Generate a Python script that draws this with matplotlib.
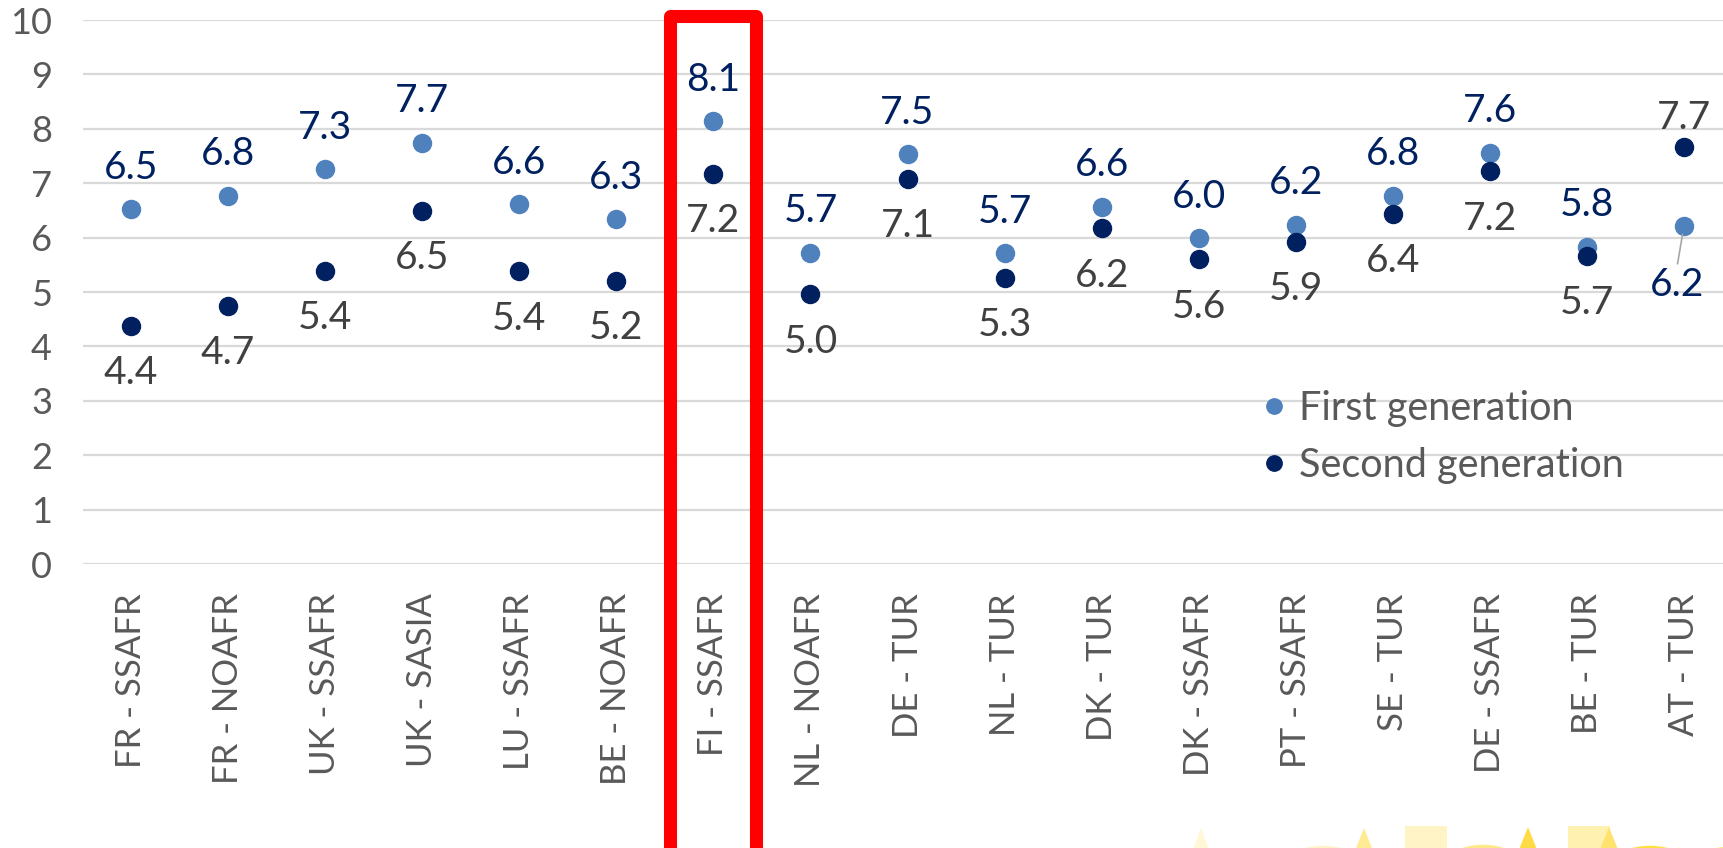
import numpy as np
import matplotlib
matplotlib.use("Agg")
import matplotlib.pyplot as plt
from matplotlib.patches import Rectangle, Circle, Polygon
import matplotlib.transforms as mtransforms

plt.rcParams['font.family'] = ['Lato', 'DejaVu Sans']

categories = ['FR - SSAFR', 'FR - NOAFR', 'UK - SSAFR', 'UK - SASIA', 'LU - SSAFR',
              'BE - NOAFR', 'FI - SSAFR', 'NL - NOAFR', 'DE - TUR', 'NL - TUR',
              'DK - TUR', 'DK - SSAFR', 'PT - SSAFR', 'SE - TUR', 'DE - SSAFR',
              'BE - TUR', 'AT - TUR']
first_gen = [6.52, 6.77, 7.26, 7.74, 6.61, 6.34, 8.14, 5.72, 7.53, 5.71,
             6.57, 5.99, 6.24, 6.77, 7.56, 5.83, 6.21]
second_gen = [4.38, 4.74, 5.39, 6.49, 5.38, 5.21, 7.17, 4.96, 7.08, 5.26,
              6.17, 5.60, 5.92, 6.44, 7.22, 5.67, 7.66]
highlight = 'FI - SSAFR'

W, H = 1723, 848
fig = plt.figure(figsize=(W / 100, H / 100), dpi=100)
ax = fig.add_axes([82.5 / W, (H - 564) / H, 1650 / W, 544 / H])

c_first = '#4F81BD'
c_second = '#002060'
c_lab2 = '#404040'
c_axis = '#595959'

x = np.arange(len(categories))
ax.plot(x, first_gen, 'o', ms=13, color=c_first, label='First generation', zorder=3)
ax.plot(x, second_gen, 'o', ms=13, color=c_second, label='Second generation', zorder=3)

# data labels: first above, second below (swapped where the second is higher)
for i in range(len(categories)):
    f, s = first_gen[i], second_gen[i]
    if s > f:
        ax.annotate(f'{s:.1f}', (i, s), xytext=(0, 13), textcoords='offset points',
                    ha='center', va='baseline', fontsize=28, color=c_lab2)
        ax.annotate(f'{f:.1f}', (i, f), xytext=(-5, -50), textcoords='offset points',
                    ha='center', va='baseline', fontsize=28, color=c_second,
                    arrowprops=dict(arrowstyle='-', color='#A6A6A6', lw=1.2,
                                    shrinkA=0, shrinkB=6,
                                    relpos=(0.5, 1.0)))
    else:
        ax.annotate(f'{f:.1f}', (i, f), xytext=(0, 22), textcoords='offset points',
                    ha='center', va='baseline', fontsize=28, color=c_second)
        ax.annotate(f'{s:.1f}', (i, s), xytext=(0, -42), textcoords='offset points',
                    ha='center', va='baseline', fontsize=28, color=c_lab2)

ax.set_xlim(-0.5, len(categories) - 0.5)
ax.set_ylim(0, 10)
ax.set_yticks(range(0, 11))
ax.set_xticks(x)
ax.set_xticklabels(categories, rotation=90, fontsize=25, color=c_axis)
ax.tick_params(axis='y', labelsize=26, labelcolor=c_axis, length=0, pad=22)
ax.tick_params(axis='x', length=0, pad=21)
ax.grid(axis='y', color='#D9D9D9', lw=1.6)
ax.set_axisbelow(True)
for sp in ax.spines.values():
    sp.set_visible(False)

# red highlight box around one category
hi = categories.index(highlight)
trans = mtransforms.blended_transform_factory(ax.transData, ax.transAxes)
ax.add_patch(Rectangle((hi - 0.443, -0.7), 0.886, 1.708, transform=trans,
                       fill=False, edgecolor='#FF0000', lw=9.4, clip_on=False,
                       joinstyle='round', zorder=4))

leg = ax.legend(loc='upper left', bbox_to_anchor=(1259 / W, 1 - 390 / H),
                bbox_transform=fig.transFigure, frameon=False, fontsize=28.5,
                handlelength=0.75, handletextpad=0.25, labelspacing=0.51,
                borderpad=0, borderaxespad=0, markerscale=0.85)
for t in leg.get_texts():
    t.set_color(c_axis)


# faded yellow logo cut off at the bottom right
def px(a, b):
    return (a / W, 1 - b / H)


logo = [
    ('tri', 1201, 828, 18, '#FFF7D6'),
    ('circ', 1323, 865, 39, '#FFF4C8'),
    ('tri', 1364, 828, 20, '#FFEB94'),
    ('rect', 1405, 826, 42, '#FFF4C6'),
    ('circ', 1483, 863, 37, '#FFE987'),
    ('tri', 1528, 827, 20, '#FFDC45'),
    ('rect', 1568, 826, 42, '#FFF1B0'),
    ('tri', 1609, 827, 20, '#FFE36E'),
    ('circ', 1650, 865, 39, '#FFE13E'),
    ('circ', 1733, 866, 40, '#FFEA7A'),
]
for kind, a, b, r, col in logo:
    if kind == 'tri':
        p = Polygon([px(a, b), px(a - r, b + 50), px(a + r, b + 50)], closed=True,
                    transform=fig.transFigure, color=col, lw=0)
    elif kind == 'rect':
        p = Rectangle(px(a, b + 40), r / W, 40 / H, transform=fig.transFigure,
                      color=col, lw=0)
    else:
        p = Circle(px(a, b), r / W, transform=fig.transFigure, color=col, lw=0)
    fig.patches.append(p)

fig.savefig('out.png', dpi=100)
